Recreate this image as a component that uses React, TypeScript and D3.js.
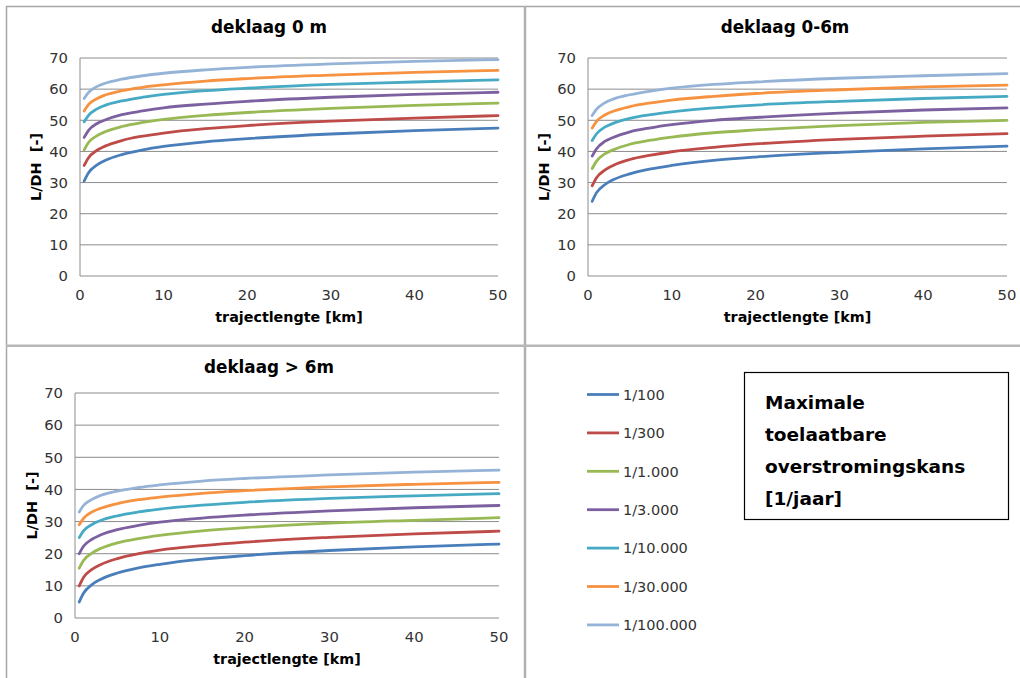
import React from 'react';
import * as d3 from 'd3';

// trajectlengte [km]
const xs = [0.5, 1, 2, 3, 5, 7.5, 10, 15, 20, 30, 40, 50];

const seriesNames = ['1/100', '1/300', '1/1.000', '1/3.000', '1/10.000', '1/30.000', '1/100.000'];
const colors = ['#4A7EBB', '#BE4B48', '#98B954', '#7D60A0', '#46AAC5', '#F69240', '#95B3D7'];

// deklaag 0 m
const deklaag0 = [
  [30.5, 33.1, 35.6, 37.1, 39.0, 40.5, 41.6, 43.1, 44.1, 45.6, 46.7, 47.5],
  [35.5, 37.9, 40.3, 41.7, 43.5, 44.9, 45.9, 47.3, 48.3, 49.7, 50.7, 51.5],
  [40.5, 42.8, 45.0, 46.3, 48.0, 49.3, 50.3, 51.6, 52.5, 53.8, 54.8, 55.5],
  [44.5, 46.7, 48.9, 50.1, 51.8, 53.0, 54.0, 55.2, 56.1, 57.4, 58.3, 59.0],
  [49.5, 51.5, 53.6, 54.8, 56.2, 57.4, 58.3, 59.5, 60.3, 61.5, 62.3, 63.0],
  [53.0, 55.0, 56.9, 58.1, 59.5, 60.6, 61.4, 62.6, 63.4, 64.5, 65.4, 66.0],
  [57.0, 58.9, 60.8, 61.9, 63.2, 64.3, 65.1, 66.2, 67.0, 68.1, 68.9, 69.5],
];

// deklaag 0-6m
const deklaag06 = [
  [24.0, 26.7, 29.3, 30.9, 32.8, 34.4, 35.5, 37.1, 38.2, 39.7, 40.8, 41.7],
  [29.0, 31.5, 34.0, 35.5, 37.4, 38.8, 39.9, 41.3, 42.4, 43.9, 44.9, 45.7],
  [34.5, 36.8, 39.2, 40.5, 42.3, 43.6, 44.6, 46.0, 46.9, 48.3, 49.3, 50.0],
  [38.5, 40.8, 43.2, 44.5, 46.3, 47.6, 48.6, 50.0, 50.9, 52.3, 53.3, 54.0],
  [43.5, 45.6, 47.8, 49.0, 50.6, 51.8, 52.7, 54.0, 54.9, 56.1, 57.0, 57.7],
  [47.5, 49.6, 51.7, 52.9, 54.4, 55.6, 56.5, 57.7, 58.6, 59.8, 60.7, 61.3],
  [51.5, 53.5, 55.6, 56.8, 58.2, 59.4, 60.3, 61.5, 62.3, 63.5, 64.3, 65.0],
];

// deklaag > 6m
const deklaag6 = [
  [5.0, 7.7, 10.4, 12.0, 14.0, 15.6, 16.7, 18.3, 19.4, 21.0, 22.1, 23.0],
  [10.0, 12.6, 15.1, 16.6, 18.5, 20.0, 21.1, 22.5, 23.6, 25.1, 26.2, 27.0],
  [15.5, 17.9, 20.2, 21.6, 23.4, 24.7, 25.7, 27.1, 28.1, 29.5, 30.4, 31.2],
  [20.0, 22.3, 24.5, 25.8, 27.5, 28.8, 29.8, 31.1, 32.0, 33.3, 34.3, 35.0],
  [25.0, 27.1, 29.1, 30.3, 31.8, 33.0, 33.9, 35.1, 36.0, 37.2, 38.0, 38.7],
  [29.0, 31.0, 33.0, 34.1, 35.6, 36.8, 37.6, 38.8, 39.6, 40.8, 41.6, 42.2],
  [33.0, 35.0, 36.9, 38.1, 39.5, 40.6, 41.4, 42.6, 43.4, 44.5, 45.4, 46.0],
];

const yTicks = [0, 10, 20, 30, 40, 50, 60, 70];
const xTicks = [0, 10, 20, 30, 40, 50];
const boxLines = ['Maximale', 'toelaatbare', 'overstromingskans', '[1/jaar]'];

const font = '"DejaVu Sans", Verdana, sans-serif';

type PanelProps = {
  title: string;
  data: number[][];
  left: number; right: number; top: number; bottom: number;
  titleX: number; titleY: number; yTitleX: number;
};

const Panel = ({ title, data, left, right, top, bottom, titleX, titleY, yTitleX }: PanelProps) => {
  const x = d3.scaleLinear().domain([0, 50]).range([left, right]);
  const y = d3.scaleLinear().domain([0, 70]).range([bottom, top]);
  const line = d3.line<number>()
    .x((_, i) => x(xs[i]))
    .y(d => y(d))
    .curve(d3.curveMonotoneX);
  const cx = (left + right) / 2;
  return (
    <g>
      <text x={titleX} y={titleY} textAnchor="middle" fontSize={16.8} fontWeight="bold" fill="#000">{title}</text>
      {yTicks.map(t => (
        <g key={t}>
          <line x1={x(0)} x2={x(50)} y1={y(t)} y2={y(t)} stroke="#8c8c8c" strokeWidth={1} />
          <text x={x(0) - 12} y={y(t)} dy="0.36em" textAnchor="end" fontSize={14.8} fill="#333">{t}</text>
        </g>
      ))}
      <line x1={x(0)} x2={x(0)} y1={y(0)} y2={y(70)} stroke="#8c8c8c" strokeWidth={1} />
      {xTicks.map(t => (
        <text key={t} x={x(t)} y={y(0) + 19} dy="0.36em" textAnchor="middle" fontSize={14.8} fill="#333">{t}</text>
      ))}
      <text x={cx} y={y(0) + 41} dy="0.36em" textAnchor="middle" fontSize={14.3} fontWeight="bold" fill="#000">trajectlengte [km]</text>
      <text transform={`translate(${yTitleX},${(y(0) + y(70)) / 2}) rotate(-90)`} dy="0.36em" textAnchor="middle"
        fontSize={14.5} fontWeight="bold" fill="#000" style={{ whiteSpace: 'pre' }}>{'L/DH  [-]'}</text>
      {data.map((s, i) => (
        <path key={i} d={line(s) || ''} fill="none" stroke={colors[i]} strokeWidth={2.8} strokeLinecap="round" />
      ))}
    </g>
  );
};

export default function App() {
  return (
    <div style={{ position: 'absolute', left: 0, top: 0 }}>
      <svg width={1020} height={678} style={{ display: 'block', fontFamily: font }}>
        <rect width={1020} height={678} fill="#fff" />
        {/* panel borders */}
        <line x1={6} x2={1020} y1={6.5} y2={6.5} stroke="#a6a6a6" strokeWidth={1.5} />
        <line x1={6.5} x2={6.5} y1={6} y2={678} stroke="#a6a6a6" strokeWidth={1.5} />
        <line x1={525} x2={525} y1={6} y2={678} stroke="#b0b0b0" strokeWidth={2.5} />
        <line x1={6} x2={1020} y1={345.8} y2={345.8} stroke="#b8b8b8" strokeWidth={2.5} />

        <Panel title="deklaag 0 m" data={deklaag0} left={80} right={498} top={58} bottom={276} titleX={269} titleY={33} yTitleX={36} />
        <Panel title="deklaag 0-6m" data={deklaag06} left={588} right={1007} top={58} bottom={276} titleX={785} titleY={33} yTitleX={544} />
        <Panel title="deklaag > 6m" data={deklaag6} left={75} right={499} top={393} bottom={618} titleX={269} titleY={373} yTitleX={32} />

        {/* legend */}
        {seriesNames.map((n, i) => {
          const ly = 394.5 + i * 38.4;
          return (
            <g key={n}>
              <line x1={587} x2={619} y1={ly} y2={ly} stroke={colors[i]} strokeWidth={2.8} />
              <text x={623} y={ly} dy="0.36em" fontSize={14.5} fill="#333">{n}</text>
            </g>
          );
        })}

        {/* text box */}
        <rect x={744.5} y={372.5} width={264} height={147} fill="#fff" stroke="#000" strokeWidth={1.2} />
        {boxLines.map((t, i) => (
          <text key={t} x={765} y={402 + i * 32} dy="0.36em" fontSize={18.5} fontWeight="bold" fill="#000">{t}</text>
        ))}
      </svg>
    </div>
  );
}
